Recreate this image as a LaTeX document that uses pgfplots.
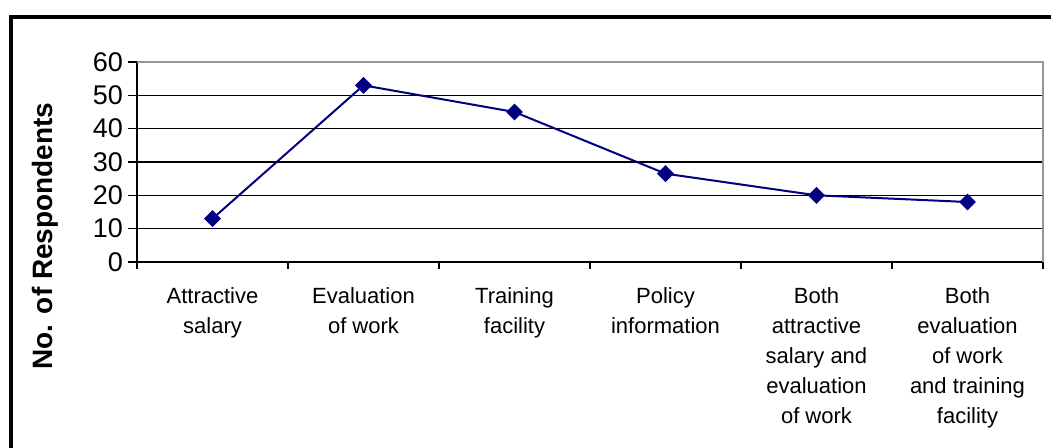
\documentclass[border=0pt]{standalone}
\usepackage{fontspec}
\setmainfont{Liberation Sans}
\usepackage{pgfplots}
\pgfplotsset{compat=1.18}
\definecolor{navyline}{RGB}{0,0,128}
\definecolor{plotborder}{RGB}{150,150,150}
\begin{document}
\begin{tikzpicture}
\useasboundingbox (-68.5pt,-93pt) rectangle (457pt,131pt);
\fill[white] (-68.5pt,-93pt) rectangle (457pt,131pt);
\draw[line width=2pt,black] (-62.75pt,-110pt) -- (-62.75pt,122.5pt) -- (470pt,122.5pt);
\begin{axis}[
  at={(0,0)}, anchor=south west,
  scale only axis,
  width=453pt, height=100pt,
  xmin=-0.5, xmax=5.5,
  ymin=0, ymax=60,
  ytick={0,10,...,60},
  xtick={0,...,5},
  xticklabels={{Attractive\\salary},{Evaluation\\of work},{Training\\facility},{Policy\\information},{Both\\attractive\\salary and\\evaluation\\of work},{Both\\evaluation\\of work\\and training\\facility}},
  major x tick style={draw=none},
  minor xtick={-0.5,0.5,...,5.5},
  minor tick length=3.5pt,
  major tick length=4.5pt,
  tick align=outside,
  tick style={black, line width=0.75pt},
  axis x line*=bottom,
  axis y line*=left,
  axis line style={black, line width=0.75pt},
  ymajorgrids,
  grid style={black, line width=0.75pt},
  /pgf/number format/assume math mode=true,
  yticklabel style={font=\fontsize{13.5}{15}\selectfont, xshift=1pt},
  xticklabel style={font=\fontsize{11}{15}\selectfont, align=center, anchor=north, yshift=-4.5pt},
  every axis y label/.style={at={(rel axis cs:-0.1015,0.13)}, rotate=90, anchor=center},
  ylabel={\fontsize{14}{16}\selectfont\bfseries No. of Respondents},
  clip=false,
]
\draw[plotborder, line width=1pt] (rel axis cs:0,1) -- (rel axis cs:1,1) -- (rel axis cs:1,0);
\addplot[navyline, line width=1pt, mark=square*, mark size=2.5pt, mark options={fill=navyline, draw=navyline, rotate=45}]
  coordinates {(0,13) (1,53) (2,45) (3,26.5) (4,20) (5,18)};
\end{axis}
\end{tikzpicture}
\end{document}
